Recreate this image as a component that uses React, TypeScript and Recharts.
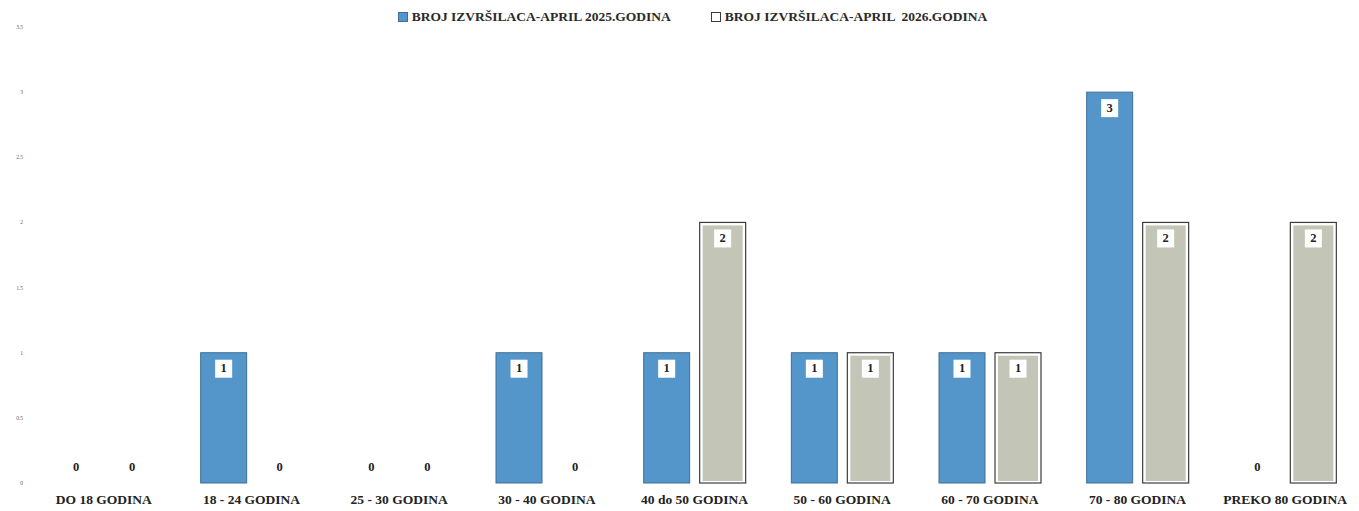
import { BarChart, Bar, XAxis, YAxis, Legend, LabelList } from "recharts";

const CATEGORIES = [
  "DO 18 GODINA",
  "18 - 24 GODINA",
  "25 - 30 GODINA",
  "30 - 40 GODINA",
  "40 do 50 GODINA",
  "50 - 60 GODINA",
  "60 - 70 GODINA",
  "70 - 80 GODINA",
  "PREKO 80 GODINA",
];

const APRIL_2025 = [0, 1, 0, 1, 1, 1, 1, 3, 0];
const APRIL_2026 = [0, 0, 0, 0, 2, 1, 1, 2, 2];

const Y_TICKS = [0, 0.5, 1, 1.5, 2, 2.5, 3, 3.5];

const SERIES_2025 = "BROJ IZVRŠILACA-APRIL 2025.GODINA";
const SERIES_2026 = "BROJ IZVRŠILACA-APRIL  2026.GODINA";

const data = CATEGORIES.map((name, i) => ({
  name,
  a2025: APRIL_2025[i],
  a2026: APRIL_2026[i],
}));

const SERIF = "'Liberation Serif', 'DejaVu Serif', serif";
const BLUE = "#5496ca";
const GREY = "#c3c5b6";

function GreyBar(props: any) {
  const { x, y, width, height } = props;
  if (!height || height <= 0) return null;
  return (
    <g>
      <rect x={x} y={y} width={width} height={height} fill="#fff" stroke="#3c3c3c" strokeWidth={1.2} />
      <rect x={x + 3} y={y + 3} width={width - 6} height={height - 5} fill={GREY} />
    </g>
  );
}

function BlueBar(props: any) {
  const { x, y, width, height } = props;
  if (!height || height <= 0) return null;
  return <rect x={x} y={y} width={width} height={height} fill={BLUE} stroke="#3f6f97" strokeWidth={1} />;
}

function ValueLabel(props: any) {
  const { x, y, width, value } = props;
  const cx = x + width / 2;
  if (!value) {
    return (
      <text x={cx} y={y - 15} textAnchor="middle" dominantBaseline="middle" fontFamily={SERIF} fontWeight="bold" fontSize={12.5} fill="#222">
        0
      </text>
    );
  }
  return (
    <g>
      <rect x={cx - 8.5} y={y + 7} width={17} height={18} fill="#fff" />
      <text x={cx} y={y + 16.5} textAnchor="middle" dominantBaseline="middle" fontFamily={SERIF} fontWeight="bold" fontSize={12.5} fill="#222">
        {value}
      </text>
    </g>
  );
}

function TopLegend() {
  const item = (label: string, swatch: React.ReactNode) => (
    <span style={{ display: "inline-flex", alignItems: "center", margin: "0 20px", whiteSpace: "pre" }}>
      {swatch}
      <span style={{ marginLeft: 4 }}>{label}</span>
    </span>
  );
  return (
    <div
      style={{
        position: "absolute",
        top: 9,
        left: 0,
        width: 1359,
        textAlign: "center",
        fontFamily: SERIF,
        fontWeight: "bold",
        fontSize: 13.5,
        color: "#2a2a2a",
        paddingLeft: 26,
        boxSizing: "border-box",
      }}
    >
      {item(SERIES_2025, <span style={{ width: 8, height: 8, background: BLUE, border: "1px solid #3f6f97", display: "inline-block" }} />)}
      {item(SERIES_2026, <span style={{ width: 8, height: 8, background: "#fff", border: "1px solid #3c3c3c", display: "inline-block" }} />)}
    </div>
  );
}

export default function App() {
  return (
    <div style={{ position: "absolute", left: 0, top: 0, background: "#fff" }}>
      <BarChart
        width={1359}
        height={511}
        data={data}
        margin={{ top: 0, right: 0, bottom: 0, left: 0 }}
        barCategoryGap={23}
        barGap={10}
      >
        <Legend verticalAlign="top" height={27} content={<TopLegend />} />
        <XAxis
          dataKey="name"
          axisLine={false}
          tickLine={false}
          height={28}
          interval={0}
          tick={{ fontFamily: SERIF, fontWeight: "bold", fontSize: 13.5, fill: "#222" }}
          tickMargin={5}
        />
        <YAxis
          domain={[0, 3.5]}
          ticks={Y_TICKS}
          width={30}
          axisLine={false}
          tickLine={false}
          tickMargin={1}
          tick={{ fontSize: 5.5, fill: "#666", fontFamily: SERIF }}
        />
        <Bar dataKey="a2025" name={SERIES_2025} shape={<BlueBar />} isAnimationActive={false}>
          <LabelList dataKey="a2025" content={<ValueLabel />} />
        </Bar>
        <Bar dataKey="a2026" name={SERIES_2026} shape={<GreyBar />} isAnimationActive={false}>
          <LabelList dataKey="a2026" content={<ValueLabel />} />
        </Bar>
      </BarChart>
    </div>
  );
}
